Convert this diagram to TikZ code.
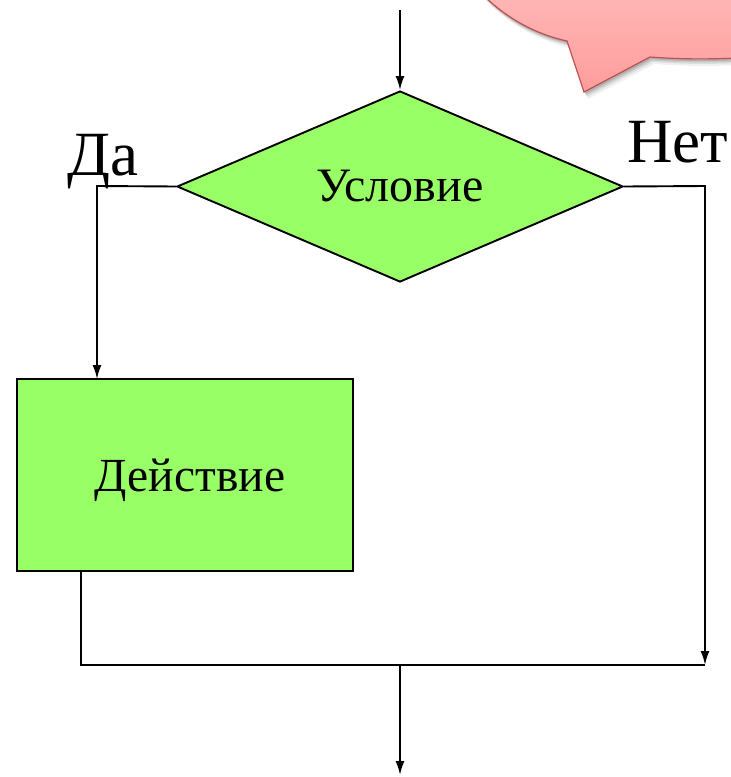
\documentclass[tikz,border=0pt]{standalone}
\usepackage{fontspec}
\setmainfont{Liberation Serif}
\usetikzlibrary{arrows.meta,shapes.geometric}
\definecolor{boxgreen}{HTML}{99FF66}
\definecolor{bubbletop}{HTML}{FFBABA}
\definecolor{bubblebot}{HTML}{FF9C9C}
\definecolor{bubbleline}{HTML}{C0504D}
\tikzset{
  flow/.style={line width=1.9pt, draw=black},
  arr/.style={flow, -{Latex[length=14pt,width=9pt]}},
  cond/.style={shape=diamond, draw=black, line width=1.9pt, fill=boxgreen, inner sep=0pt, aspect=2.3,
     minimum width=446pt, minimum height=191pt, font=\fontsize{48}{54}\selectfont},
  act/.style={shape=rectangle, draw=black, line width=1.9pt, fill=boxgreen, inner sep=0pt,
     minimum width=336pt, minimum height=192pt},
  acttext/.style={inner sep=0pt, font=\fontsize{47.5}{54}\selectfont},
  lbl/.style={inner sep=0pt, anchor=base west, font=\fontsize{63}{70}\selectfont}
}
\begin{document}
\begin{tikzpicture}[x=1pt,y=-1pt]
\useasboundingbox (0,0) rectangle (731,777);
% speech bubble (partly outside)
\begin{scope}
\clip (0,0) rectangle (731,777);
\foreach \s/\o in {7/0.06,5/0.08,3.5/0.10,2/0.12}{
  \fill[black, opacity=\o, shift={(\s*0.6,\s)}]
    (470,-20) .. controls (495,12) and (530,33) .. (567,41) -- (584,92) -- (650,57)
    .. controls (690,60) and (720,59) .. (760,57) -- (760,-20) -- cycle;
}
\shade[top color=bubbletop, bottom color=bubblebot, draw=bubbleline, line width=1.2pt]
  (470,-20) .. controls (495,12) and (530,33) .. (567,41) -- (584,92) -- (650,57)
  .. controls (690,60) and (720,59) .. (760,57) -- (760,-20) -- cycle;
\end{scope}

\node[cond] (c) at (400,186.5) {Условие};
\node[act] (a) at (185,475) {};
\node[acttext] (at) at (190,480) {Действие};
\node[lbl] (da) at (67,175) {Да};
\node[lbl] (net) at (627,162) {Нет};

\coordinate (top) at (400,10);
\coordinate (lcorner) at (97,186);
\coordinate (ltip) at (97,379);
\coordinate (rcorner) at (705,186);
\coordinate (jr) at (705,665);
\coordinate (abot) at (81,571);
\coordinate (jl) at (81,665);
\coordinate (jm) at (400,665);
\coordinate (out) at (400,775);

\draw[arr] (top) -- (c.north);
\draw[arr] (c.west) -- (lcorner) -- (ltip);
\draw[arr] (c.east) -- (rcorner) -- (jr);
\draw[flow] (abot) -- (jl) -- (jr);
\draw[arr] (jm) -- (out);
\end{tikzpicture}
\end{document}
